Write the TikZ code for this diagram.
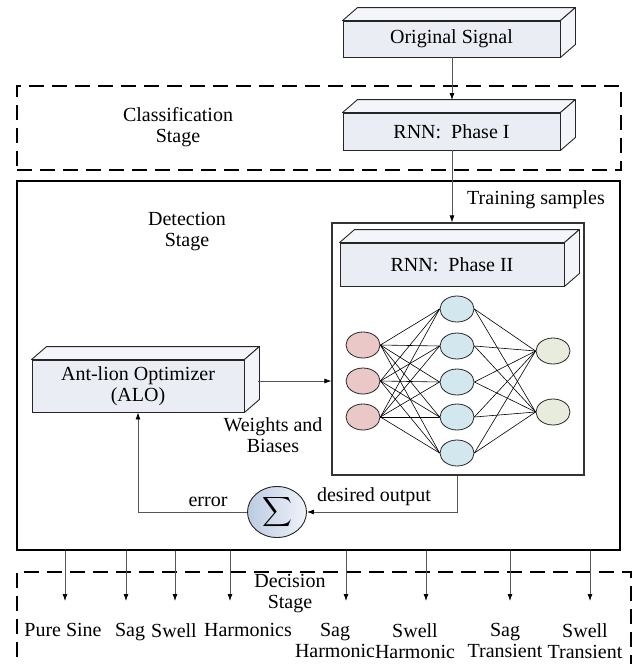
\documentclass[tikz,border=0pt]{standalone}
\usepackage{amsmath}
\usepackage{fontspec}
\setmainfont{Liberation Serif}
\usetikzlibrary{arrows.meta,shapes.geometric,calc,positioning}
\definecolor{slabfill}{RGB}{234,237,244}
\definecolor{slabtop}{RGB}{243,245,250}
\definecolor{inpfill}{RGB}{234,200,200}
\definecolor{hidfill}{RGB}{210,232,238}
\definecolor{outfill}{RGB}{232,236,220}
\definecolor{sumleft}{RGB}{188,203,226}
\definecolor{sumright}{RGB}{240,243,250}
\definecolor{wiregray}{RGB}{85,85,85}
\tikzset{
  slab/.style={draw=black!85,fill=slabfill,line width=0.9pt,inner sep=0pt},
  slabface/.style={draw=black!85,fill=slabtop,line width=0.9pt,line join=round},
  neuron/.style={ellipse,draw=black!85,line width=0.8pt,minimum width=34pt,minimum height=26pt,inner sep=0pt},
  stagedash/.style={draw,line width=2.2pt,dash pattern=on 15pt off 8pt},
  stagetext/.style={align=center},
  wire/.style={draw=wiregray,line width=0.8pt},
  flow/.style={wire,-{Latex[length=7pt,width=5pt,color=black]}},
  outlabel/.style={anchor=north,align=center,inner sep=0pt}
}
% top and side faces of a block
\newcommand\slabdepth[1]{
\draw[slabface](#1.north west)--++(15,-13)--($(#1.north east)+(15,-13)$)--(#1.north east)--cycle;
\draw[slabface](#1.north east)--++(15,-13)--($(#1.south east)+(15,-13)$)--(#1.south east)--cycle;
}
\begin{document}
\begin{tikzpicture}[x=1pt,y=-1pt,font=\fontsize{20}{21}\selectfont]
\useasboundingbox (0,0) rectangle (632,664);
%stages
\node[stagedash,minimum width=604pt,minimum height=84pt] (cls) at (319,128) {};
\node[draw,line width=1.8pt,minimum width=603pt,minimum height=369pt] (det) at (318.5,365.5) {};
\draw[stagedash](17,680)--(17,572)--(631,572)--(631,680);
\node[stagetext] (clstext) at (178,127) {Classification\\Stage};
\node[stagetext] (dettext) at (187,232) {Detection\\Stage};
\node[stagetext] (dectext) at (290,594) {Decision\\Stage};
%blocks
\node[slab,minimum width=217pt,minimum height=36pt] (orig) at (451.5,39) {Original Signal};
\slabdepth{orig}
\node[slab,minimum width=217pt,minimum height=37pt] (phaseI) at (451.5,131.5) {RNN:~~Phase I};
\slabdepth{phaseI}
\node[draw=black!80,line width=1.1pt,minimum width=252pt,minimum height=252pt] (net) at (458,349) {};
\node[slab,minimum width=224pt,minimum height=43pt] (phaseII) at (452,264.5) {RNN:~~Phase II};
\slabdepth{phaseII}
\node[slab,minimum width=212pt,minimum height=52pt,align=center] (alo) at (138,386) {Ant-lion Optimizer\\(ALO)};
\slabdepth{alo}
\node[ellipse,draw=black!85,line width=0.9pt,minimum width=59pt,minimum height=51pt,inner sep=0pt,
  left color=sumleft,right color=sumright] (sigma) at (277,512)
  {$\displaystyle\sum$};
%network
\foreach \y [count=\i] in {345,381,417}
  \node[neuron,fill=inpfill] (in\i) at (363,\y) {};
\foreach \y [count=\i] in {309,346,382,417,453}
  \node[neuron,fill=hidfill] (hid\i) at (457,\y) {};
\foreach \y [count=\i] in {351,412}
  \node[neuron,fill=outfill] (out\i) at (553,\y) {};
\foreach \i in {1,2,3}{
  \foreach \j in {1,...,5}{
    \draw[line width=0.6pt](in\i.east)--(hid\j.west);
  }
}
\foreach \j in {1,...,5}{
  \foreach \k in {1,2}{
    \draw[line width=0.6pt](hid\j.east)--(out\k.west);
  }
}
%connections
\coordinate (origin) at (452,57);
\coordinate (phaseItop) at (452,100);
\coordinate (aloout) at (258,381);
\draw[flow](origin)--(phaseItop);
\draw[flow](phaseI.south -| origin)--(origin |- net.north);
\draw[flow](aloout)--(aloout -| net.west);
\draw[flow](hid5 |- net.south)|-(sigma.east);
\draw[flow](sigma.west)-|(alo.south);
\node (train) at (536,200) {Training samples};
\node[align=center] (wb) at (273,435) {Weights and\\Biases};
\node (err) at (208,502) {error};
\node (desired) at (374,497) {desired output};
%outputs
\foreach \x/\n in {65/1,126/2,175/3,230/4,346/5,426/6,510/7,590/8}{
  \coordinate (tip\n) at (\x,601);
  \draw[flow](tip\n |- det.south)--(tip\n);
}
\node[outlabel] (lab1) at (63,623) {Pure Sine};
\node[outlabel] (lab2) at (130,623) {Sag};
\node[outlabel] (lab3) at (174,623) {Swell};
\node[outlabel] (lab4) at (248,623) {Harmonics};
\node[outlabel] (lab5) at (335,623) {Sag\\Harmonic};
\node[outlabel] (lab6) at (415,623) {Swell\\Harmonic};
\node[outlabel] (lab7) at (505,623) {Sag\\Transient};
\node[outlabel] (lab8) at (585,623) {Swell\\Transient};
\end{tikzpicture}
\end{document}
